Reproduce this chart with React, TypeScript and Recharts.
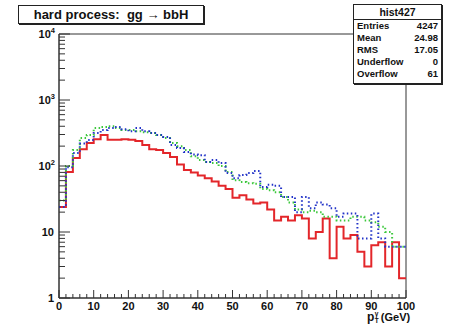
import React from "react";
import { LineChart, Line, XAxis, YAxis, ReferenceArea } from "recharts";

// bin contents, 50 bins of 2 GeV from 0 to 100
const BIN_WIDTH = 2;
const RED = [
  24, 81, 132, 180, 223, 255, 295, 250, 250, 255,
  250, 240, 208, 180, 175, 157, 137, 105, 87, 80,
  72, 65, 58, 50, 45, 33, 36, 31, 27, 28,
  22, 15, 17, 15, 18, 16, 8, 10, 16, 4,
  12, 8, 9, 5, 3, 6.3, 7, 3, 7, 2,
];
const GREEN = [
  30, 100, 175, 265, 295, 375, 390, 400, 375, 350,
  350, 335, 325, 316, 295, 265, 223, 200, 175, 140,
  123, 115, 111, 100, 81, 61, 57, 55, 54, 45,
  43, 40, 34, 28, 22, 20, 21, 20, 17, 17,
  15, 15, 17, 17, 15, 14, 12, 10, 6, 6,
];
const BLUE = [
  24, 96, 157, 220, 247, 316, 350, 375, 390, 360,
  335, 375, 335, 316, 295, 275, 208, 187, 163, 150,
  146, 115, 123, 111, 78, 65, 73, 78, 84, 48,
  52, 50, 34, 34, 20, 34, 23, 28, 26, 23,
  17, 19, 19, 8, 8, 19, 8, 6, 6, 6,
];

const X_MAJOR = [0, 10, 20, 30, 40, 50, 60, 70, 80, 90, 100];
const X_MINOR_STEP = 2;
const Y_MAJOR = [1, 10, 100, 1000, 10000];
const Y_MINOR_MULT = [2, 3, 4, 5, 6, 7, 8, 9];

const STATS = [
  ["Entries", "4247"],
  ["Mean", "24.98"],
  ["RMS", "17.05"],
  ["Underflow", "0"],
  ["Overflow", "61"],
];

const FONT = "'Liberation Sans', Arial, Helvetica, sans-serif";
const AXIS = "#333";

const data = Array.from({ length: RED.length + 1 }, (_, i) => {
  const k = Math.min(i, RED.length - 1);
  return { x: i * BIN_WIDTH, red: RED[k], green: GREEN[k], blue: BLUE[k] };
});

const xTicks: number[] = [];
for (let v = 0; v <= 100; v += X_MINOR_STEP) xTicks.push(v);

const yTicks: number[] = [];
Y_MAJOR.forEach((d, i) => {
  yTicks.push(d);
  if (i < Y_MAJOR.length - 1) Y_MINOR_MULT.forEach((m) => yTicks.push(d * m));
});

function YTick(props: any) {
  const { x, y, payload } = props;
  const v = payload.value;
  const major = Y_MAJOR.includes(v);
  const exp = Math.round(Math.log10(v));
  return (
    <g>
      <line x1={x} x2={x + (major ? 11 : 6)} y1={y} y2={y} stroke={AXIS} />
      {major && (
        <text
          x={exp >= 2 ? x - 4 : x - 5}
          y={y}
          dy="0.36em"
          textAnchor="end"
          fontFamily={FONT}
          fontWeight="bold"
          fontSize={11}
          fill="#111"
        >
          {exp < 2 ? String(v) : "10"}
          {exp >= 2 && (
            <tspan dy={-5} fontSize={7.5}>
              {exp}
            </tspan>
          )}
        </text>
      )}
    </g>
  );
}

function XTick(props: any) {
  const { x, y, payload } = props;
  const v = payload.value;
  const major = X_MAJOR.includes(v);
  return (
    <g>
      <line x1={x} x2={x} y1={y} y2={y - (major ? 8 : 4)} stroke={AXIS} />
      {major && (
        <text
          x={x}
          y={y + 12}
          textAnchor="middle"
          fontFamily={FONT}
          fontWeight="bold"
          fontSize={11}
          fill="#111"
        >
          {v}
        </text>
      )}
    </g>
  );
}

export default function App() {
  return (
    <div
      style={{
        position: "absolute",
        left: 0,
        top: 0,
        width: 457,
        height: 327,
        background: "#fff",
        fontFamily: FONT,
      }}
    >
      <LineChart
        width={457}
        height={327}
        data={data}
        margin={{ top: 34, right: 51, bottom: 0, left: 0 }}
      >
        <XAxis
          dataKey="x"
          type="number"
          domain={[0, 100]}
          ticks={xTicks}
          interval={0}
          height={29}
          tickSize={0}
          tickMargin={0}
          tickLine={false}
          axisLine={{ stroke: AXIS }}
          tick={<XTick />}
        />
        <YAxis
          type="number"
          scale="log"
          domain={[1, 10000]}
          allowDataOverflow
          ticks={yTicks}
          interval={0}
          width={59}
          tickSize={0}
          tickMargin={0}
          tickLine={false}
          axisLine={{ stroke: AXIS }}
          tick={<YTick />}
        />
        <ReferenceArea
          x1={0}
          x2={100}
          y1={1}
          y2={10000}
          fill="none"
          fillOpacity={0}
          stroke={AXIS}
          strokeWidth={1}
        />
        <Line
          dataKey="red"
          type="stepAfter"
          stroke="#e3262a"
          strokeWidth={2}
          dot={false}
          isAnimationActive={false}
        />
        <Line
          dataKey="green"
          type="stepAfter"
          stroke="#3cc83c"
          strokeWidth={2}
          strokeDasharray="1.5 2.5"
          dot={false}
          isAnimationActive={false}
        />
        <Line
          dataKey="blue"
          type="stepAfter"
          stroke="#2233c8"
          strokeWidth={2}
          strokeDasharray="1.5 2.5"
          dot={false}
          isAnimationActive={false}
        />
      </LineChart>

      {/* title box */}
      <div
        style={{
          position: "absolute",
          left: 18,
          top: 5,
          width: 184,
          height: 17,
          border: "1px solid #222",
          boxShadow: "1px 1px 0 #222",
          background: "#fff",
          fontWeight: "bold",
          fontSize: 13,
          lineHeight: "17px",
          textAlign: "center",
          color: "#111",
          whiteSpace: "pre",
        }}
      >
        {"hard process:  gg \u2192 bbH"}
      </div>

      {/* stats box */}
      <div
        style={{
          position: "absolute",
          left: 353,
          top: 4,
          width: 87,
          height: 78,
          border: "1px solid #222",
          boxShadow: "1px 1px 0 #222",
          background: "#fff",
          color: "#111",
          fontWeight: "bold",
          fontSize: 9.5,
        }}
      >
        <div
          style={{
            textAlign: "center",
            fontSize: 10.5,
            height: 14,
            lineHeight: "14px",
            borderBottom: "1px solid #222",
          }}
        >
          hist427
        </div>
        {STATS.map(([k, v]) => (
          <div
            key={k}
            style={{
              display: "flex",
              justifyContent: "space-between",
              padding: "0 3px 0 3px",
              height: 12,
              lineHeight: "12px",
            }}
          >
            <span>{k}</span>
            <span>{v}</span>
          </div>
        ))}
      </div>

      {/* x axis title */}
      <svg
        width={457}
        height={327}
        style={{ position: "absolute", left: 0, top: 0, pointerEvents: "none" }}
      >
        <text
          x={367}
          y={321}
          fontFamily={FONT}
          fontWeight="bold"
          fontSize={12}
          fill="#111"
        >
          p
          <tspan dx={0.5} dy={-5} fontSize={6.5}>
            {"\u03B3"}
          </tspan>
          <tspan dx={-3.6} dy={7} fontSize={6.5}>
            T
          </tspan>
          <tspan dx={2} dy={-2} fontSize={11}>
            (GeV)
          </tspan>
        </text>
      </svg>
    </div>
  );
}
